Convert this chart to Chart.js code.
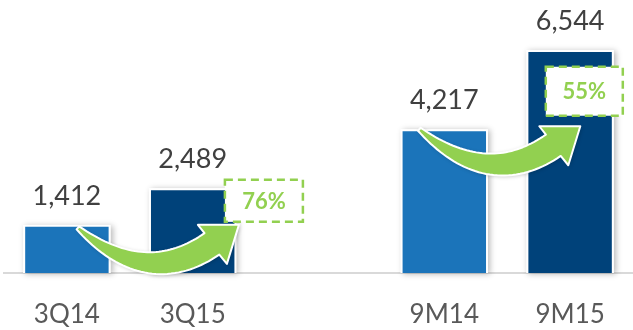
<!DOCTYPE html>
<html>
<head>
<meta charset="utf-8">
<script src="https://cdn.jsdelivr.net/npm/chart.js@4/dist/chart.umd.min.js"></script>
<style>
  html, body { margin: 0; padding: 0; background: #ffffff; }
  #wrap { width: 633px; height: 330px; position: relative; }
</style>
</head>
<body>
<div id="wrap"><canvas id="chart"></canvas></div>
<script>
// Periods (an empty slot separates the quarterly and nine-month pairs)
const categories = ['3Q14', '3Q15', '', '9M14', '9M15'];
// Values per period
const values = [1412, 2489, null, 4217, 6544];
// Growth comparisons: [earlier period index, later period index]
const comparisons = [[0, 1], [3, 4]];

const LIGHT_BLUE = '#1B74BA';
const NAVY = '#00427A';
const GREEN = '#92D050';

const fmt = new Intl.NumberFormat('en-US');

// Placement of each growth arrow and its percentage box, relative to the earlier bar's top centre
const growthLayout = [
  { arrowDx: 10, arrowDy: 2, boxDx: 197, boxDy: -24, boxW: 78, boxH: 42 },
  { arrowDx: -26, arrowDy: -1, boxDx: 140, boxDy: -38, boxW: 77, boxH: 49 }
];

// Soft drop shadow behind each bar
const barShadow = {
  id: 'barShadow',
  beforeDatasetsDraw(chart) {
    const ctx = chart.ctx;
    chart.getDatasetMeta(0).data.forEach((bar, i) => {
      if (values[i] == null) return;
      const { x, y, base, width } = bar.getProps(['x', 'y', 'base', 'width'], true);
      ctx.save();
      ctx.shadowColor = 'rgba(0,0,0,0.28)';
      ctx.shadowBlur = 6;
      ctx.shadowOffsetX = 2;
      ctx.shadowOffsetY = 1;
      ctx.fillStyle = '#ffffff';
      ctx.fillRect(x - width / 2, y, width, base - y);
      ctx.restore();
    });
  }
};

// Curved block arrow, local coordinates with the tail at the origin
function drawCurvedArrow(ctx, ox, oy) {
  const P0 = { x: 1, y: 1 }, C = { x: 70, y: 62 }, P2 = { x: 135, y: 17 };
  const tip = { x: 162, y: -2 }, barbA = { x: 121, y: -2 }, barbB = { x: 150, y: 37 };
  const N = 40, minus = [], plus = [];
  for (let i = 0; i <= N; i++) {
    const t = i / N;
    const x = (1 - t) ** 2 * P0.x + 2 * t * (1 - t) * C.x + t * t * P2.x;
    const y = (1 - t) ** 2 * P0.y + 2 * t * (1 - t) * C.y + t * t * P2.y;
    const dx = 2 * (1 - t) * (C.x - P0.x) + 2 * t * (P2.x - C.x);
    const dy = 2 * (1 - t) * (C.y - P0.y) + 2 * t * (P2.y - C.y);
    const len = Math.hypot(dx, dy);
    const nx = -dy / len, ny = dx / len;
    const w = 4 + 22 * (1 - (1 - t) ** 2);
    plus.push([x + nx * w / 2, y + ny * w / 2]);
    minus.push([x - nx * w / 2, y - ny * w / 2]);
  }
  ctx.save();
  ctx.translate(ox, oy);
  ctx.beginPath();
  minus.forEach((p, i) => i ? ctx.lineTo(p[0], p[1]) : ctx.moveTo(p[0], p[1]));
  ctx.lineTo(barbA.x, barbA.y);
  ctx.lineTo(tip.x, tip.y);
  ctx.lineTo(barbB.x, barbB.y);
  for (let i = plus.length - 1; i >= 0; i--) ctx.lineTo(plus[i][0], plus[i][1]);
  ctx.closePath();
  ctx.shadowColor = 'rgba(0,0,0,0.25)';
  ctx.shadowBlur = 4;
  ctx.shadowOffsetX = 1;
  ctx.shadowOffsetY = 1;
  ctx.fillStyle = GREEN;
  ctx.fill();
  ctx.shadowColor = 'transparent';
  ctx.lineJoin = 'round';
  ctx.lineWidth = 2;
  ctx.strokeStyle = '#ffffff';
  ctx.stroke();
  ctx.restore();
}

// Growth arrows, dashed percentage boxes and value labels
const annotations = {
  id: 'annotations',
  afterDatasetsDraw(chart) {
    const ctx = chart.ctx;
    const bars = chart.getDatasetMeta(0).data;

    comparisons.forEach(([a, b], k) => {
      const L = growthLayout[k];
      const from = bars[a].getProps(['x', 'y'], true);
      drawCurvedArrow(ctx, from.x + L.arrowDx, from.y + L.arrowDy);

      const pct = Math.round((values[b] / values[a] - 1) * 100);
      const cx = from.x + L.boxDx, cy = from.y + L.boxDy;
      ctx.save();
      ctx.fillStyle = '#ffffff';
      ctx.fillRect(cx - L.boxW / 2, cy - L.boxH / 2, L.boxW, L.boxH);
      ctx.setLineDash([8, 5]);
      ctx.lineWidth = 2.5;
      ctx.strokeStyle = GREEN;
      ctx.strokeRect(cx - L.boxW / 2, cy - L.boxH / 2, L.boxW, L.boxH);
      ctx.setLineDash([]);
      ctx.fillStyle = GREEN;
      ctx.font = 'bold 22px Lato';
      ctx.textAlign = 'center';
      ctx.textBaseline = 'alphabetic';
      ctx.fillText(pct + '%', cx, cy + 8);
      ctx.restore();
    });

    ctx.save();
    ctx.fillStyle = '#404040';
    ctx.font = '27px Lato';
    ctx.textAlign = 'center';
    ctx.textBaseline = 'alphabetic';
    bars.forEach((bar, i) => {
      if (values[i] == null) return;
      const { x, y } = bar.getProps(['x', 'y'], true);
      ctx.fillText(fmt.format(values[i]), x, y - 20);
    });
    ctx.restore();
  }
};

new Chart(document.getElementById('chart'), {
  type: 'bar',
  data: {
    labels: categories,
    datasets: [{
      data: values,
      backgroundColor: [LIGHT_BLUE, NAVY, LIGHT_BLUE, LIGHT_BLUE, NAVY],
      borderColor: '#ffffff',
      borderWidth: 2,
      barPercentage: 0.695,
      categoryPercentage: 1
    }]
  },
  options: {
    responsive: true,
    maintainAspectRatio: false,
    animation: false,
    layout: { padding: { left: 4, right: -2, top: 2, bottom: 0 } },
    plugins: { legend: { display: false }, tooltip: { enabled: false } },
    scales: {
      x: {
        grid: { display: false, drawTicks: false },
        border: { display: true, color: '#D9D9D9', width: 2 },
        ticks: { color: '#595959', font: { family: 'Lato', size: 26 }, padding: 26, maxRotation: 0 },
        afterFit(scale) { scale.height = 57; }
      },
      y: {
        display: false,
        min: 0,
        max: 7950
      }
    }
  },
  plugins: [barShadow, annotations]
});
</script>
</body>
</html>
